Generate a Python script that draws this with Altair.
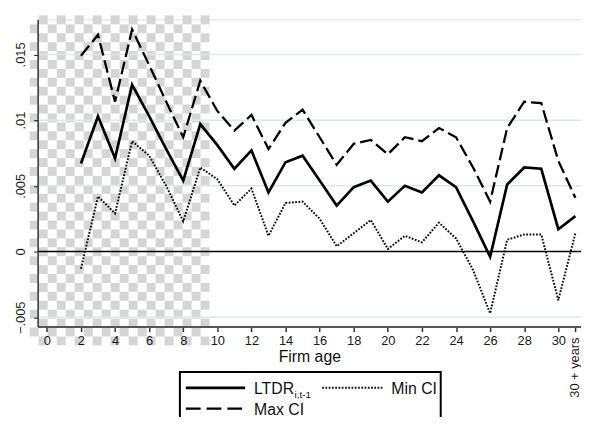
import altair as alt
import pandas as pd
import numpy as np

# ---- data ----
ages = list(range(2, 32))  # 31 = "30 + years"
ltdr = [0.0067, 0.0103, 0.0071, 0.0127, 0.0103, 0.0078, 0.0054, 0.0097, 0.0081, 0.0063,
        0.0077, 0.0045, 0.0068, 0.0073, 0.0054, 0.0035, 0.0049, 0.0054, 0.0038, 0.0050,
        0.0045, 0.0058, 0.0049, 0.0023, -0.0004, 0.0051, 0.0064, 0.0063, 0.0017, 0.0027]
max_ci = [0.0149, 0.0165, 0.0114, 0.0169, 0.0142, 0.0114, 0.0087, 0.0130, 0.0107, 0.0092,
          0.0104, 0.0078, 0.0098, 0.0108, 0.0087, 0.0066, 0.0082, 0.0085, 0.0074, 0.0087,
          0.0084, 0.0094, 0.0087, 0.0064, 0.0038, 0.0094, 0.0114, 0.0113, 0.0069, 0.0041]
min_ci = [-0.0013, 0.0042, 0.0029, 0.0084, 0.0073, 0.0050, 0.0023, 0.0064, 0.0055, 0.0035,
          0.0048, 0.0012, 0.0037, 0.0038, 0.0025, 0.0004, 0.0014, 0.0024, 0.0002, 0.0012,
          0.0007, 0.0022, 0.0010, -0.0014, -0.0047, 0.0009, 0.0013, 0.0013, -0.0037, 0.0014]

x_ticks = list(range(0, 31, 2)) + [31]
y_ticks = [-0.005, 0, 0.005, 0.01, 0.015]
grid_vals = [-0.005, 0.005, 0.01, 0.015]
last_label = "30 + years"

FONT = "Liberation Sans"
W, H = 550, 311
XDOM = [-0.54, 31.33]
YDOM = [-0.00571, 0.01767]
DASH = [13, 5]
DOT = [1.8, 1.5]

xs = alt.Scale(domain=XDOM, nice=False, zero=False)
ys = alt.Scale(domain=YDOM, nice=False, zero=False)

xaxis = alt.Axis(values=x_ticks, format="d",
                 labelExpr="datum.value == 31 ? '' : datum.label",
                 title="Firm age", titleFont=FONT, titleFontSize=16,
                 titleFontWeight="normal", titleColor="#111", titlePadding=1,
                 labelFont=FONT, labelFontSize=13, labelColor="#1a1a1a",
                 labelPadding=3, tickSize=5, tickWidth=1.5, tickColor="#333",
                 domainColor="#555", domainWidth=2, grid=False, zindex=1,
                 labelFlush=False, labelOverlap=False)
yaxis = alt.Axis(values=y_ticks,
                 labelExpr="datum.value == 0 ? '0' : replace(format(datum.value, '.3~f'), '0.', '.')",
                 title=None, labelFont=FONT, labelFontSize=13, labelColor="#1a1a1a",
                 labelAngle=270, labelAlign="center", labelBaseline="bottom",
                 labelPadding=6, tickSize=4, tickWidth=1.2, tickColor="#333",
                 domainColor="#333", domainWidth=1.5, grid=False, zindex=1,
                 labelFlush=False, labelOverlap=False)

df = pd.DataFrame({"age": ages, "ltdr": ltdr, "maxci": max_ci, "minci": min_ci})

# ---- checkerboard background (transparency artefact of the reference) ----
ncol, nrow = 20, 37
cw = 182 / ncol * (XDOM[1] - XDOM[0]) / W
ch = 334 / nrow * (YDOM[1] - YDOM[0]) / H
x0 = XDOM[0] - 8 * (XDOM[1] - XDOM[0]) / W
y0 = YDOM[1] + 4 * (YDOM[1] - YDOM[0]) / H
cells = []
for i in range(ncol):
    for j in range(nrow):
        if (i + j) % 2 == 1:
            cells.append({"cx": x0 + i * cw, "cx2": x0 + (i + 1) * cw,
                          "cy": y0 - j * ch, "cy2": y0 - (j + 1) * ch})
checker = alt.Chart(pd.DataFrame(cells)).mark_rect(
    color="#d5d5d5", clip=False, strokeWidth=0
).encode(
    x=alt.X("cx:Q", scale=xs, axis=xaxis), x2="cx2:Q",
    y=alt.Y("cy:Q", scale=ys, axis=yaxis), y2="cy2:Q",
)

# ---- gridlines and zero line ----
grid = alt.Chart(pd.DataFrame({"g": grid_vals})).mark_rule(
    color="#d6ecec", strokeWidth=1.5
).encode(y=alt.Y("g:Q", scale=ys, axis=yaxis))

zero = alt.Chart(pd.DataFrame({"z": [0]})).mark_rule(
    color="black", strokeWidth=1.5
).encode(y=alt.Y("z:Q", scale=ys, axis=yaxis))

base = alt.Chart(df)

line_max = base.mark_line(color="black", strokeWidth=2.3, strokeDash=DASH).encode(
    x=alt.X("age:Q", scale=xs, axis=xaxis),
    y=alt.Y("maxci:Q", scale=ys, axis=yaxis),
)
line_min = base.mark_line(color="#111", strokeWidth=2, strokeDash=DOT).encode(
    x=alt.X("age:Q", scale=xs, axis=xaxis), y=alt.Y("minci:Q", scale=ys, axis=yaxis),
)
line_main = base.mark_line(color="black", strokeWidth=2.7).encode(
    x=alt.X("age:Q", scale=xs, axis=xaxis), y=alt.Y("ltdr:Q", scale=ys, axis=yaxis),
)

# rotated last tick label
last = alt.Chart(pd.DataFrame({"age": [31], "lab": [last_label]})).mark_text(
    angle=270, align="right", baseline="middle", font=FONT, fontSize=13,
    color="#1a1a1a", clip=False
).encode(x=alt.X("age:Q", scale=xs, axis=xaxis), y=alt.value(H + 11), text="lab:N")

# ---- legend (drawn manually to allow the subscript) ----
leg_df = pd.DataFrame({"k": [0]})
lb = alt.Chart(leg_df)
leg_box = lb.mark_rect(fill="white", stroke="black", strokeWidth=2, clip=False).encode(
    x=alt.value(144), x2=alt.value(408), y=alt.value(H + 46), y2=alt.value(H + 120))
leg_solid = lb.mark_rule(color="black", strokeWidth=2.7).encode(
    x=alt.value(150), x2=alt.value(210), y=alt.value(H + 62))
leg_dash = lb.mark_rule(color="black", strokeWidth=2.3, strokeDash=[15, 6]).encode(
    x=alt.value(150), x2=alt.value(210), y=alt.value(H + 83))
leg_dot = lb.mark_rule(color="#111", strokeWidth=2, strokeDash=DOT).encode(
    x=alt.value(288), x2=alt.value(349), y=alt.value(H + 62))
t_ltdr = lb.mark_text(align="left", baseline="alphabetic", font=FONT, fontSize=16, color="#111").encode(
    x=alt.value(219), y=alt.value(H + 68), text=alt.value("LTDR"))
t_sub = lb.mark_text(align="left", baseline="alphabetic", font=FONT, fontSize=10, color="#111").encode(
    x=alt.value(260), y=alt.value(H + 72), text=alt.value("i,t-1"))
t_min = lb.mark_text(align="left", baseline="alphabetic", font=FONT, fontSize=16, color="#111").encode(
    x=alt.value(358), y=alt.value(H + 68), text=alt.value("Min CI"))
t_max = lb.mark_text(align="left", baseline="alphabetic", font=FONT, fontSize=16, color="#111").encode(
    x=alt.value(219), y=alt.value(H + 89), text=alt.value("Max CI"))

chart = alt.layer(
    checker, grid, zero, line_max, line_min, line_main, last,
    leg_box, leg_solid, leg_dash, leg_dot, t_ltdr, t_sub, t_min, t_max
).properties(
    width=W, height=H,
    padding={"left": 30, "top": 9, "right": 0, "bottom": 89},
    autosize=alt.AutoSizeParams(type="none"),
).configure_view(strokeWidth=0).configure(background="white")

chart.save("out.html", embed_options={"renderer": "svg", "actions": False})
